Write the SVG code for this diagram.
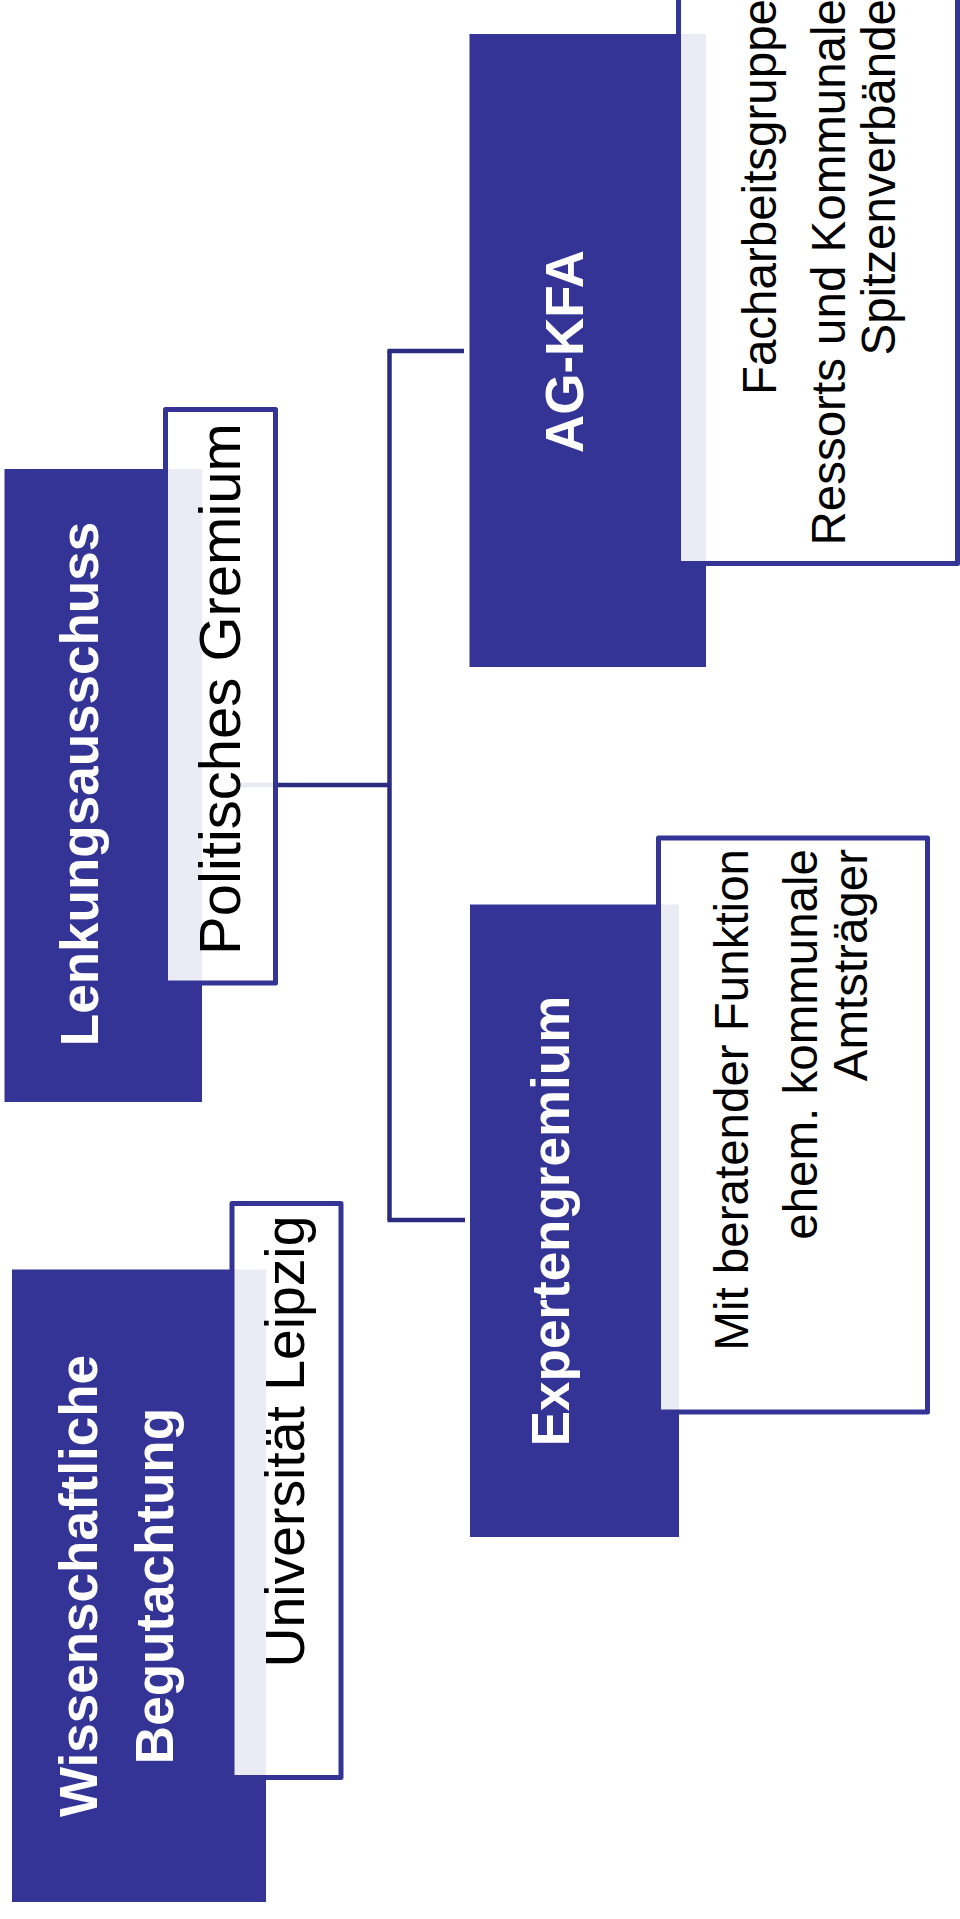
<svg xmlns="http://www.w3.org/2000/svg" width="960" height="1919" viewBox="0 0 960 1919">
  <style>
    .head { fill: #343497; }
    .card { fill: #ffffff; fill-opacity: 0.9; stroke: #343497; stroke-width: 5; stroke-linejoin: round; }
    .link { fill: none; stroke: #2b2b80; stroke-width: 4.5; }
    .title { font-family: "Liberation Sans", Arial, sans-serif; font-weight: bold; font-size: 53px; fill: #ffffff; text-anchor: middle; }
    .big { font-family: "Liberation Sans", Arial, sans-serif; fill: #000000; text-anchor: middle; }
    .body { font-family: "Liberation Sans", Arial, sans-serif; font-size: 47.5px; fill: #000000; text-anchor: end; }
  </style>
  <rect width="960" height="1919" fill="#ffffff"/>

  <!-- connectors (drawn first so the translucent cards sit above them) -->
  <g id="connectors">
    <path class="link" d="M232,785 H389.5"/>
    <path class="link" d="M389.5,351 V1220"/>
    <path class="link" d="M387.5,351 H464"/>
    <path class="link" d="M387.5,1220 H465"/>
  </g>

  <!-- steering committee -->
  <g id="lenkungsausschuss">
    <rect class="head" x="4.5" y="469" width="197.5" height="633"/>
    <rect class="card" x="165.5" y="409.5" width="110" height="573.5"/>
    <text class="title" transform="translate(98,784) rotate(-90)">Lenkungsausschuss</text>
    <text class="big" font-size="58" transform="translate(240,689) rotate(-90)">Politisches Gremium</text>
  </g>

  <!-- working group -->
  <g id="ag-kfa">
    <rect class="head" x="469.5" y="34" width="236.5" height="633"/>
    <rect class="card" x="678.5" y="-60" width="279" height="623.5"/>
    <text class="title" transform="translate(583,351.5) rotate(-90)">AG-KFA</text>
    <text class="body" transform="translate(776,-1) rotate(-90)">Facharbeitsgruppe</text>
    <text class="body" transform="translate(845,-1) rotate(-90)">Ressorts und Kommunale</text>
    <text class="body" transform="translate(895,-1) rotate(-90)">Spitzenverbände</text>
  </g>

  <!-- expert panel -->
  <g id="expertengremium">
    <rect class="head" x="470" y="904.5" width="209" height="632.5"/>
    <rect class="card" x="658.5" y="838" width="269" height="574"/>
    <text class="title" transform="translate(569,1221) rotate(-90)">Expertengremium</text>
    <text class="body" transform="translate(748,849) rotate(-90)">Mit beratender Funktion</text>
    <text class="body" transform="translate(817,849) rotate(-90)">ehem. kommunale</text>
    <text class="body" transform="translate(866.5,849) rotate(-90)">Amtsträger</text>
  </g>

  <!-- scientific review -->
  <g id="wissenschaftliche-begutachtung">
    <rect class="head" x="12" y="1269.5" width="254" height="632.5"/>
    <rect class="card" x="232" y="1203.5" width="109" height="574"/>
    <text class="title" transform="translate(97,1586) rotate(-90)">Wissenschaftliche</text>
    <text class="title" transform="translate(173,1586) rotate(-90)">Begutachtung</text>
    <text class="big" font-size="55.3" transform="translate(304,1441.5) rotate(-90)">Universität Leipzig</text>
  </g>
</svg>
